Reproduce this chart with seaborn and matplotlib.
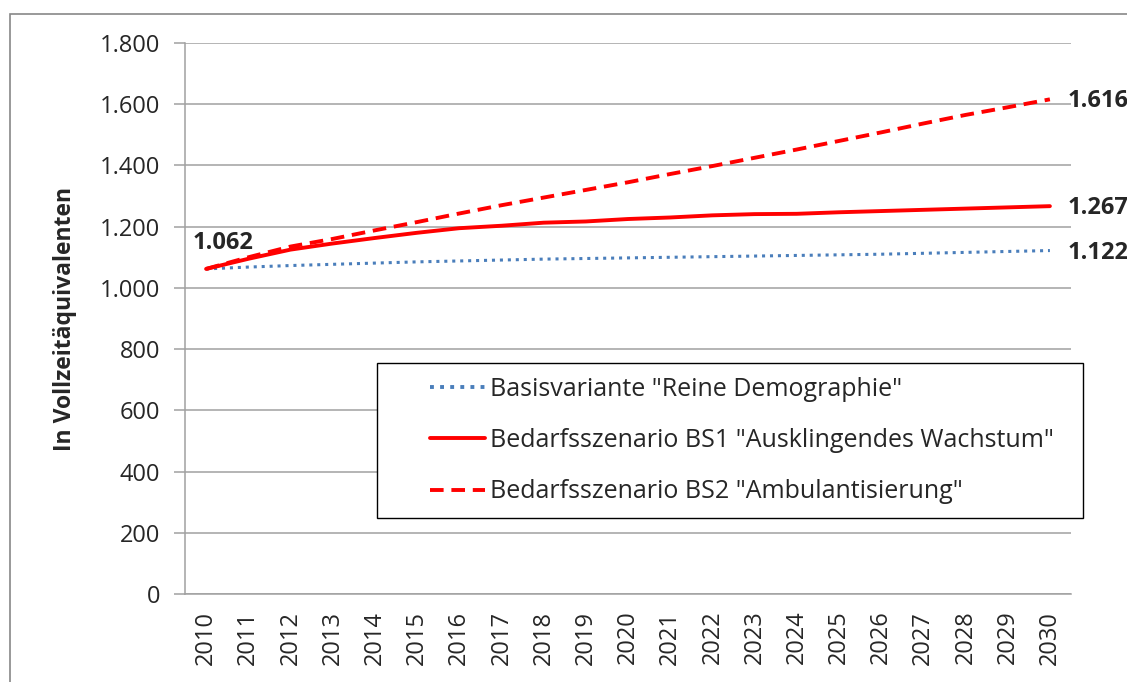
import numpy as np
import pandas as pd
import matplotlib
matplotlib.use('Agg')
import matplotlib.pyplot as plt
from matplotlib.ticker import FuncFormatter, FixedLocator
from matplotlib.patches import Rectangle
import seaborn as sns

# --- Daten ---
jahre = [str(j) for j in range(2010, 2031)]
basis = [1062, 1068, 1073, 1077, 1081, 1085, 1088, 1091, 1094, 1096, 1098,
         1100, 1102, 1104, 1106, 1108, 1110, 1113, 1116, 1119, 1122]
bs1 = [1062, 1095, 1125, 1145, 1163, 1180, 1195, 1203, 1213, 1217, 1225,
       1230, 1237, 1241, 1242, 1247, 1251, 1255, 1259, 1263, 1267]
bs2 = [1062, 1100, 1135, 1160, 1188, 1215, 1243, 1270, 1295, 1320, 1345,
       1372, 1398, 1425, 1452, 1480, 1508, 1537, 1565, 1590, 1616]
namen = ['Basisvariante "Reine Demographie"',
         'Bedarfsszenario BS1 "Ausklingendes Wachstum"',
         'Bedarfsszenario BS2 "Ambulantisierung"']

sns.set_style('white')
plt.rcParams['font.family'] = ['Open Sans', 'DejaVu Sans']

df = pd.DataFrame({'pos': list(range(len(jahre))) * 3,
                   'wert': basis + bs1 + bs2,
                   'reihe': [namen[0]] * 21 + [namen[1]] * 21 + [namen[2]] * 21})

W, H = 1127, 682
fig = plt.figure(figsize=(W / 100, H / 100), dpi=100)
ax = fig.add_axes([185 / W, 1 - 594 / H, (1071 - 185) / W, (594 - 43) / H])

stile = {namen[0]: dict(color='#4a7ebb', ls=(0, (1, 1.6)), lw=2.2),
         namen[1]: dict(color='#ff0000', ls='-', lw=2.8),
         namen[2]: dict(color='#ff0000', ls=(0, (3.5, 2)), lw=2.8)}

for n in namen:
    sub = df[df['reihe'] == n]
    sns.lineplot(data=sub, x='pos', y='wert', ax=ax, label=n,
                 color=stile[n]['color'], linestyle=stile[n]['ls'],
                 linewidth=stile[n]['lw'])

ax.set_xlim(-0.5, 20.5)
ax.set_ylim(0, 1800)
ax.set_yticks(range(0, 1801, 200))
ax.yaxis.set_major_formatter(FuncFormatter(lambda v, p: f'{int(v):,}'.replace(',', '.')))
ax.grid(axis='y', color='#a0a0a0', lw=1.1)
ax.set_axisbelow(True)

ax.set_xticks(range(len(jahre)))
ax.set_xticklabels(jahre, rotation=90)
ax.xaxis.set_minor_locator(FixedLocator(np.arange(-0.5, 21, 1)))
ax.tick_params(axis='x', which='major', length=0, pad=12, labelsize=17)
ax.tick_params(axis='x', which='minor', length=7, color='#a0a0a0', width=1.1, direction='out')
ax.tick_params(axis='y', length=8, color='#a0a0a0', width=1.1, direction='out',
               labelsize=17, pad=10, left=True)

for s in ['top', 'right']:
    ax.spines[s].set_visible(False)
for s in ['left', 'bottom']:
    ax.spines[s].set_color('#a0a0a0')
    ax.spines[s].set_linewidth(1.1)

ax.set_xlabel('')
ax.set_ylabel('In Vollzeitäquivalenten', fontsize=16.5, fontweight='bold', labelpad=16)

# Beschriftungen der Werte
def fmt(v):
    return f'{v:,}'.replace(',', '.')

ax.annotate(fmt(basis[0]), (0, basis[0]), xytext=(-10, 19), textcoords='offset points',
            fontsize=17, fontweight='bold', ha='left', va='center')
for reihe in [basis, bs1, bs2]:
    ax.annotate(fmt(reihe[-1]), (20, reihe[-1]), xytext=(13, -1.5), textcoords='offset points',
                fontsize=17, fontweight='bold', ha='left', va='center', annotation_clip=False)

# Legende ohne Rahmen, Rahmen separat
leg = ax.legend(loc='upper left', bbox_to_anchor=(430 / W, 1 - 377 / H),
                bbox_transform=fig.transFigure, frameon=False, fontsize=18,
                handlelength=2.2, handletextpad=0.2, labelspacing=1.05,
                borderpad=0, borderaxespad=0)
for h in leg.get_lines():
    h.set_linewidth(2.8)
ax.add_patch(Rectangle((377 / W, 1 - 518 / H), (1083 - 377) / W, (518 - 363) / H,
                       transform=fig.transFigure, fill=True, facecolor='white',
                       edgecolor='#000000', lw=1.0, zorder=4, clip_on=False))
leg.set_zorder(5)

# Rahmen um das Diagramm
fig.patches.append(Rectangle((10 / W, -0.1), 1.2, 1 - 14 / H + 0.1,
                             transform=fig.transFigure, fill=False,
                             edgecolor='#888888', lw=1.2))

fig.savefig('out.png', dpi=100)
